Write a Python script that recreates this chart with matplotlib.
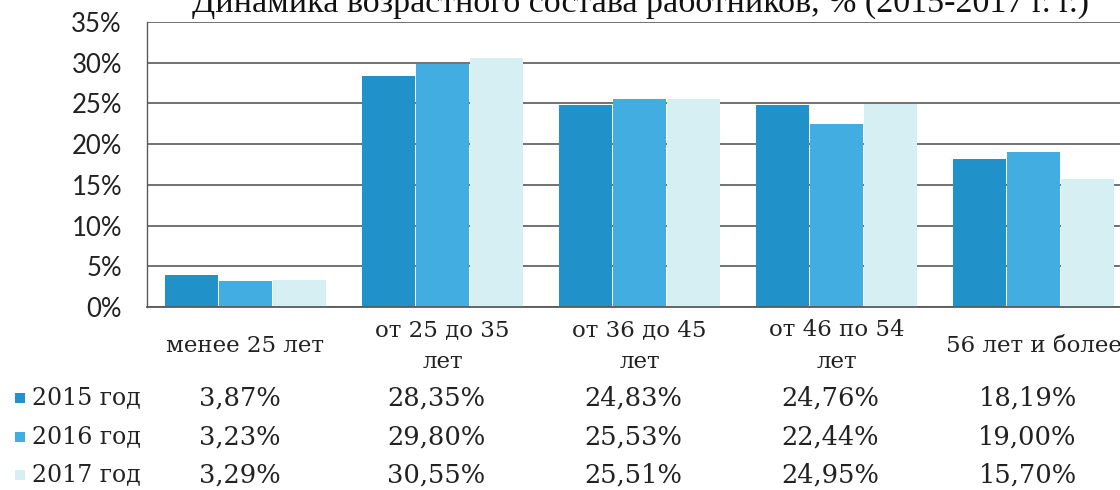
import matplotlib
matplotlib.use("Agg")
import matplotlib.pyplot as plt
import numpy as np

categories = ["менее 25 лет", "от 25 до 35\nлет", "от 36 до 45\nлет", "от 46 по 54\nлет", "56 лет и более"]
series_names = ["2015 год", "2016 год", "2017 год"]
v2015 = [3.87, 28.35, 24.83, 24.76, 18.19]
v2016 = [3.23, 29.80, 25.53, 22.44, 19.00]
v2017 = [3.29, 30.55, 25.51, 24.95, 15.70]
series = [v2015, v2016, v2017]
colors = ["#2192c9", "#42ade0", "#d6eff3"]
yticks = [0, 5, 10, 15, 20, 25, 30, 35]
title = "Динамика возрастного состава работников, % (2015-2017 г. г.)"

W, H = 1120, 490
fig = plt.figure(figsize=(W / 100, H / 100), dpi=100)
left, right, top, bottom = 147, 1132, 22, 307
ax = fig.add_axes([left / W, (H - bottom) / H, (right - left) / W, (bottom - top) / H])

x = np.arange(len(categories))
bw = 0.27
offs = [-0.275, 0.0, 0.275]
for s, c, o in zip(series, colors, offs):
    ax.bar(x + o, s, width=bw, color=c, zorder=2)

ax.set_xlim(-0.5, len(categories) - 0.5)
ax.set_ylim(0, 35)
ax.set_yticks(yticks)
ax.set_yticklabels([f"{t}%" for t in yticks], fontfamily="Lato", fontsize=18.5, color="#222222")
ax.tick_params(axis="y", length=0, pad=18)
ax.set_xticks([])
ax.yaxis.grid(True, color="#5a5a5a", linewidth=1.2, zorder=0)
ax.set_axisbelow(True)
for side in ["top", "right"]:
    ax.spines[side].set_visible(False)
ax.spines["left"].set_color("#5a5a5a")
ax.spines["bottom"].set_color("#5a5a5a")
ax.spines["left"].set_linewidth(1.0)
ax.spines["bottom"].set_linewidth(1.3)

# title (partly cut at top, as in the reference)
fig.text(640 / W, 1 - 12 / H, title, ha="center", va="baseline",
         fontfamily="Liberation Serif", fontsize=24.5, color="#111111")

# category labels
for i, cat in enumerate(categories):
    ax.annotate(cat, xy=(x[i], 0), xycoords=("data", "axes fraction"),
                xytext=(0, -39 * 72 / 100), textcoords="offset points",
                ha="center", va="center", fontfamily="DejaVu Serif", fontsize=16.5,
                color="#222222", linespacing=1.6, annotation_clip=False)

# data table rows
row_y = [398, 437, 475]
for r, (name, s, c) in enumerate(zip(series_names, series, colors)):
    yy = 1 - row_y[r] / H
    fig.patches.append(matplotlib.patches.Rectangle((15 / W, yy - 5 / H), 10 / W, 10 / H,
                       transform=fig.transFigure, facecolor=c, edgecolor="none"))
    fig.text(32 / W, yy, name, ha="left", va="center", fontfamily="DejaVu Serif",
             fontsize=17, color="#222222")
    for i, v in enumerate(s):
        xc = ax.transData.transform((x[i], 0))[0] - 6
        fig.text(xc / W, yy, f"{v:.2f}%".replace(".", ","), ha="center", va="center",
                 fontfamily="DejaVu Serif", fontsize=18.5, color="#222222")

fig.savefig("out.png", dpi=100)
